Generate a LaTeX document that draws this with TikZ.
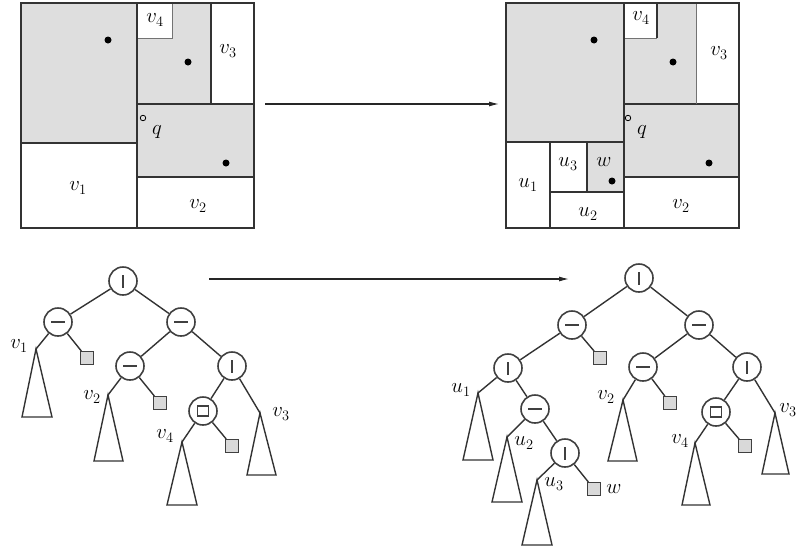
\documentclass[tikz,border=0pt]{standalone}
\usetikzlibrary{arrows.meta}
\begin{document}
\begin{tikzpicture}[x=1pt,y=-1pt,
  lab/.style={inner sep=0pt,font=\fontsize{22}{26}\selectfont},
  gfill/.style={fill=black!13},
  outer/.style={line width=2.2pt,draw=black!80},
  split/.style={line width=1.7pt,draw=black!80},
  thinsplit/.style={line width=1pt,draw=black!55},
  dot/.style={circle,fill=black,inner sep=0pt,minimum size=7pt},
  qdot/.style={circle,draw,line width=0.8pt,inner sep=0pt,minimum size=5.5pt},
  tnode/.style={circle,draw=black!75,line width=1.6pt,minimum size=28pt,inner sep=0pt},
  vsplitnode/.style={tnode,path picture={\draw[line width=1.4pt] ([yshift=-6.5pt]path picture bounding box.center) -- ([yshift=6.5pt]path picture bounding box.center);}},
  hsplitnode/.style={tnode,path picture={\draw[line width=1.4pt] ([xshift=-7pt]path picture bounding box.center) -- ([xshift=7pt]path picture bounding box.center);}},
  boxnode/.style={tnode,path picture={\draw[line width=1.6pt] ([xshift=-5.5pt,yshift=-5pt]path picture bounding box.center) rectangle ([xshift=5.5pt,yshift=5pt]path picture bounding box.center);}},
  leafbox/.style={draw=black!75,fill=black!15,line width=1pt,minimum size=13pt,inner sep=0pt},
  edge/.style={line width=1.4pt,draw=black!80},
  tri/.style={line width=1.4pt,draw=black!80},
  arr/.style={line width=1.1pt,draw=black!85,-{Latex[length=10pt,width=5pt]}}
]
\useasboundingbox (0,0) rectangle (799,552);

% ---------------- Left subdivision ----------------
\fill[gfill] (21,3) rectangle (137,143);
\fill[gfill] (137,3) rectangle (211,104);
\fill[gfill] (137,104) rectangle (254,177);
\fill[white] (137,3) rectangle (172,38);
\draw[thinsplit] (137,38) -- (172,38) -- (172,3);
\draw[split] (137,3) -- (137,228);
\draw[split] (21,143) -- (137,143);
\draw[split] (137,104) -- (254,104);
\draw[split] (211,3) -- (211,104);
\draw[split] (137,177) -- (254,177);
\draw[outer] (21,3) rectangle (254,228);
\node[dot] (dA) at (108,40) {};
\node[dot] (dB) at (188,62) {};
\node[dot] (dC) at (226,163) {};
\node[qdot] (qL) at (143,118) {};
\node[lab] (qLl) at (157,132) {$q$};
\node[lab] (Lv1) at (78,188) {$v_1$};
\node[lab] (Lv2) at (198,206) {$v_2$};
\node[lab] (Lv3) at (228,51) {$v_3$};
\node[lab] (Lv4) at (155,20) {$v_4$};

% ---------------- Right subdivision ----------------
\fill[gfill] (506,3) rectangle (624,142);
\fill[gfill] (624,3) rectangle (696,104);
\fill[gfill] (624,104) rectangle (739,177);
\fill[gfill] (587,142) rectangle (624,192);
\fill[white] (624,3) rectangle (657,38);
\draw[thinsplit] (624,38) -- (657,38);
\draw[split] (657,38) -- (657,3);
\draw[split] (624,3) -- (624,228);
\draw[split] (506,142) -- (624,142);
\draw[split] (624,104) -- (739,104);
\draw[thinsplit] (696,3) -- (696,104);
\draw[split] (624,177) -- (739,177);
\draw[split] (550,142) -- (550,228);
\draw[split] (550,192) -- (624,192);
\draw[split] (587,142) -- (587,192);
\draw[outer] (506,3) rectangle (739,228);
\node[dot] (dD) at (594,40) {};
\node[dot] (dE) at (673,62) {};
\node[dot] (dF) at (709,163) {};
\node[dot] (dG) at (612,181) {};
\node[qdot] (qR) at (628,118) {};
\node[lab] (qRl) at (642,132) {$q$};
\node[lab] (Ru1) at (528,185) {$u_1$};
\node[lab] (Ru2) at (588,214) {$u_2$};
\node[lab] (Ru3) at (568,164) {$u_3$};
\node[lab] (Rw) at (604,162) {$w$};
\node[lab] (Rv2) at (681,206) {$v_2$};
\node[lab] (Rv3) at (719,53) {$v_3$};
\node[lab] (Rv4) at (641,18) {$v_4$};

% top arrow
\coordinate (ta) at (265,104);
\coordinate (tb) at (499,104);
\draw[arr] (ta) -- (tb);
% bottom arrow
\coordinate (ba) at (209,279);
\coordinate (bb) at (569,279);
\draw[arr] (ba) -- (bb);

% ---------------- Left tree ----------------
\node[vsplitnode] (Lr) at (123,281) {};
\node[hsplitnode] (La) at (58,322) {};
\node[hsplitnode] (Lb) at (181,322) {};
\node[leafbox] (Lsa) at (87,358) {};
\node[hsplitnode] (Lc) at (130,366) {};
\node[vsplitnode] (Ld) at (232,366) {};
\node[leafbox] (Lsc) at (160,403) {};
\node[boxnode] (Le) at (203,411) {};
\node[leafbox] (Lse) at (232,446) {};
\coordinate (Lt1) at (36,349);
\coordinate (Lt2) at (108,395);
\coordinate (Lt3) at (260,413);
\coordinate (Lt4) at (182,442);
\draw[edge] (Lr) -- (La);
\draw[edge] (Lr) -- (Lb);
\draw[edge] (La) -- (Lt1);
\draw[edge] (La) -- (Lsa);
\draw[edge] (Lb) -- (Lc);
\draw[edge] (Lb) -- (Ld);
\draw[edge] (Lc) -- (Lt2);
\draw[edge] (Lc) -- (Lsc);
\draw[edge] (Ld) -- (Le);
\draw[edge] (Ld) -- (Lt3);
\draw[edge] (Le) -- (Lt4);
\draw[edge] (Le) -- (Lse);
\draw[tri] (Lt1) -- (22,417) -- (52,417) -- cycle;
\draw[tri] (Lt2) -- (94,461) -- (123,461) -- cycle;
\draw[tri] (Lt3) -- (247,475) -- (276,475) -- cycle;
\draw[tri] (Lt4) -- (167,505) -- (197,505) -- cycle;
\node[lab] (Tv1) at (19,346) {$v_1$};
\node[lab] (Tv2) at (92,397) {$v_2$};
\node[lab] (Tv3) at (281,414) {$v_3$};
\node[lab] (Tv4) at (165,436) {$v_4$};

% ---------------- Right tree ----------------
\node[vsplitnode] (Rr) at (639,278) {};
\node[hsplitnode] (Ra) at (572,325) {};
\node[hsplitnode] (Rb) at (699,325) {};
\node[vsplitnode] (Rc) at (508,368) {};
\node[leafbox] (Rsa) at (600,358) {};
\node[hsplitnode] (Rd) at (643,367) {};
\node[vsplitnode] (Re) at (747,367) {};
\node[hsplitnode] (Rf) at (535,409) {};
\node[vsplitnode] (Rg) at (565,453) {};
\node[leafbox] (Rsw) at (594,489) {};
\node[leafbox] (Rsd) at (670,403) {};
\node[boxnode] (Rh) at (716,412) {};
\node[leafbox] (Rsh) at (745,446) {};
\coordinate (Rtu1) at (478,393);
\coordinate (Rtu2) at (507,437);
\coordinate (Rtu3) at (537,480);
\coordinate (Rtv2) at (623,400);
\coordinate (Rtv3) at (775,413);
\coordinate (Rtv4) at (695,443);
\draw[edge] (Rr) -- (Ra);
\draw[edge] (Rr) -- (Rb);
\draw[edge] (Ra) -- (Rc);
\draw[edge] (Ra) -- (Rsa);
\draw[edge] (Rc) -- (Rtu1);
\draw[edge] (Rc) -- (Rf);
\draw[edge] (Rf) -- (Rtu2);
\draw[edge] (Rf) -- (Rg);
\draw[edge] (Rg) -- (Rtu3);
\draw[edge] (Rg) -- (Rsw);
\draw[edge] (Rb) -- (Rd);
\draw[edge] (Rb) -- (Re);
\draw[edge] (Rd) -- (Rtv2);
\draw[edge] (Rd) -- (Rsd);
\draw[edge] (Re) -- (Rh);
\draw[edge] (Re) -- (Rtv3);
\draw[edge] (Rh) -- (Rtv4);
\draw[edge] (Rh) -- (Rsh);
\draw[tri] (Rtu1) -- (463,460) -- (493,460) -- cycle;
\draw[tri] (Rtu2) -- (492,502) -- (522,502) -- cycle;
\draw[tri] (Rtu3) -- (522,545) -- (552,545) -- cycle;
\draw[tri] (Rtv2) -- (608,461) -- (637,461) -- cycle;
\draw[tri] (Rtv3) -- (762,474) -- (789,474) -- cycle;
\draw[tri] (Rtv4) -- (682,505) -- (710,505) -- cycle;
\node[lab] (Tu1) at (461,390) {$u_1$};
\node[lab] (Tu2) at (524,443) {$u_2$};
\node[lab] (Tu3) at (554,484) {$u_3$};
\node[lab] (Tw) at (614,489) {$w$};
\node[lab] (TRv2) at (606,397) {$v_2$};
\node[lab] (TRv3) at (788,410) {$v_3$};
\node[lab] (TRv4) at (680,441) {$v_4$};
\end{tikzpicture}
\end{document}
